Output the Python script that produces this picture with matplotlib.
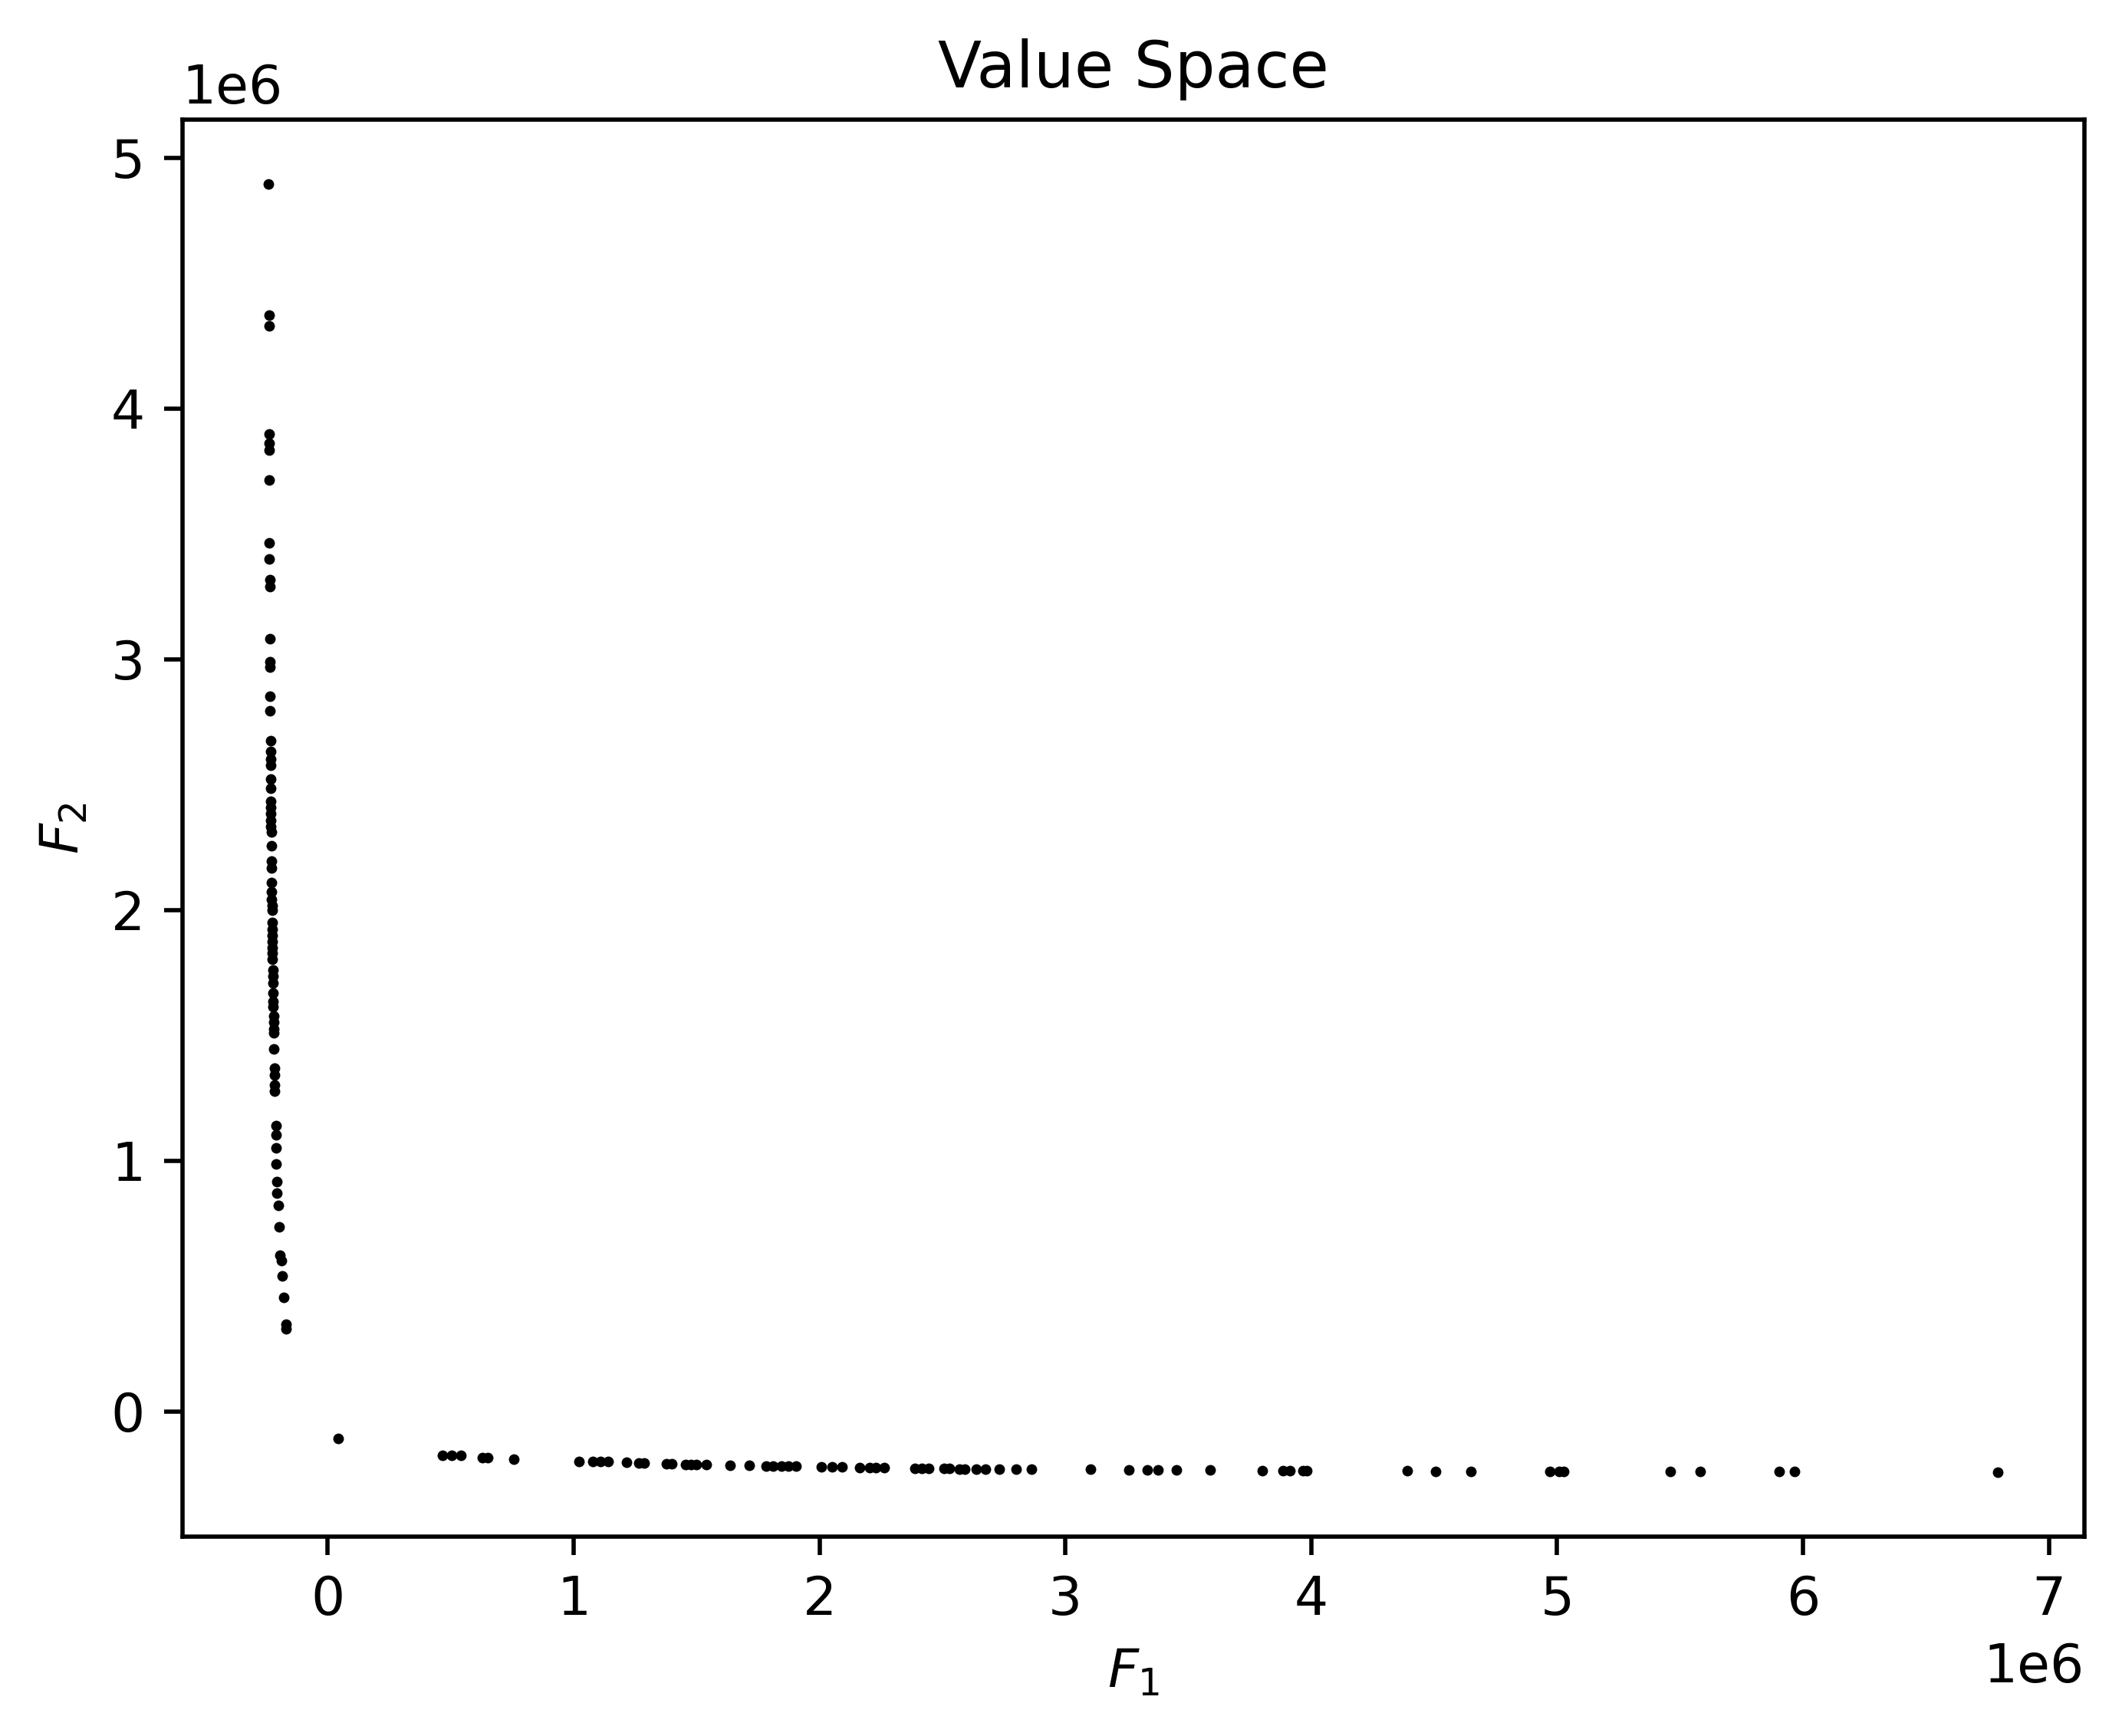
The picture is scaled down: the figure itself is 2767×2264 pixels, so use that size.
import numpy as np
import matplotlib
matplotlib.use("Agg")
import matplotlib.pyplot as plt

# branch along the F2 axis (values in units of 1e6)
f1_vert = [-0.240, -0.239, -0.239, -0.238, -0.238, -0.238, -0.237,
           -0.237, -0.237, -0.236, -0.236, -0.236, -0.235, -0.235, -0.234, -0.234,
           -0.233, -0.233, -0.233, -0.233, -0.232, -0.232, -0.232, -0.231, -0.232,
           -0.231, -0.231, -0.230, -0.230, -0.229, -0.229, -0.229, -0.228, -0.228,
           -0.227, -0.227, -0.226, -0.226, -0.225, -0.226, -0.225, -0.225, -0.225,
           -0.224, -0.224, -0.224, -0.223, -0.223, -0.223, -0.221, -0.221, -0.221,
           -0.221, -0.221, -0.217, -0.217, -0.217, -0.217, -0.211, -0.211, -0.211,
           -0.209, -0.206, -0.206, -0.202, -0.199, -0.193, -0.189, -0.186, -0.180,
           -0.171, -0.171]
f2_vert = [4.896, 4.371, 4.328, 3.897, 3.862, 3.834, 3.716,
           3.464, 3.400, 3.318, 3.289, 3.083, 2.990, 2.969, 2.851, 2.794,
           2.674, 2.633, 2.601, 2.577, 2.521, 2.485, 2.434, 2.409, 2.383,
           2.358, 2.332, 2.312, 2.256, 2.195, 2.166, 2.108, 2.072, 2.042,
           2.016, 1.999, 1.950, 1.924, 1.899, 1.873, 1.848, 1.827, 1.802,
           1.761, 1.736, 1.710, 1.669, 1.634, 1.613, 1.578, 1.552, 1.526,
           1.511, 1.445, 1.369, 1.343, 1.302, 1.277, 1.139, 1.103, 1.052,
           0.986, 0.915, 0.869, 0.823, 0.736, 0.622, 0.602, 0.540, 0.454,
           0.349, 0.329]

# branch along the F1 axis (values in units of 1e6)
f1_horiz = [0.041, 0.467, 0.505, 0.542, 0.628, 0.651, 0.756,
            1.023, 1.078, 1.109, 1.140, 1.215, 1.264, 1.286, 1.379, 1.400,
            1.456, 1.476, 1.500, 1.541, 1.635, 1.713, 1.783, 1.811, 1.845,
            1.873, 1.904, 2.006, 2.050, 2.092, 2.162, 2.203, 2.228, 2.263,
            2.389, 2.416, 2.444, 2.507, 2.528, 2.569, 2.590, 2.639, 2.674,
            2.732, 2.799, 2.862, 3.103, 3.259, 3.333, 3.378, 3.452, 3.589,
            3.802, 3.886, 3.914, 3.967, 3.983, 4.391, 4.507, 4.649, 4.969,
            5.007, 5.027, 5.461, 5.582, 5.903, 5.965, 6.792]
f2_horiz = [-0.108, -0.175, -0.175, -0.177, -0.184, -0.184, -0.191,
            -0.199, -0.201, -0.201, -0.201, -0.204, -0.207, -0.207, -0.210, -0.210,
            -0.211, -0.211, -0.212, -0.212, -0.215, -0.216, -0.217, -0.217, -0.218,
            -0.218, -0.218, -0.222, -0.222, -0.222, -0.224, -0.224, -0.224, -0.224,
            -0.227, -0.227, -0.228, -0.228, -0.228, -0.229, -0.229, -0.229, -0.229,
            -0.230, -0.232, -0.232, -0.232, -0.235, -0.235, -0.235, -0.235, -0.235,
            -0.237, -0.237, -0.237, -0.237, -0.237, -0.237, -0.240, -0.240, -0.240,
            -0.240, -0.240, -0.240, -0.240, -0.241, -0.241, -0.243]

F1 = np.array(f1_vert + f1_horiz) * 1e6
F2 = np.array(f2_vert + f2_horiz) * 1e6

fig = plt.figure(figsize=(2767 / 500, 2264 / 500), dpi=500)
ax = fig.add_axes([0.0859, 0.1148, 0.8963, 0.8164])
ax.scatter(F1, F2, s=4, c="k", linewidths=0)
ax.set_title("Value Space")
ax.set_xlabel("$F_1$")
ax.set_ylabel("$F_2$")

fig.savefig("out.png", dpi=500)
